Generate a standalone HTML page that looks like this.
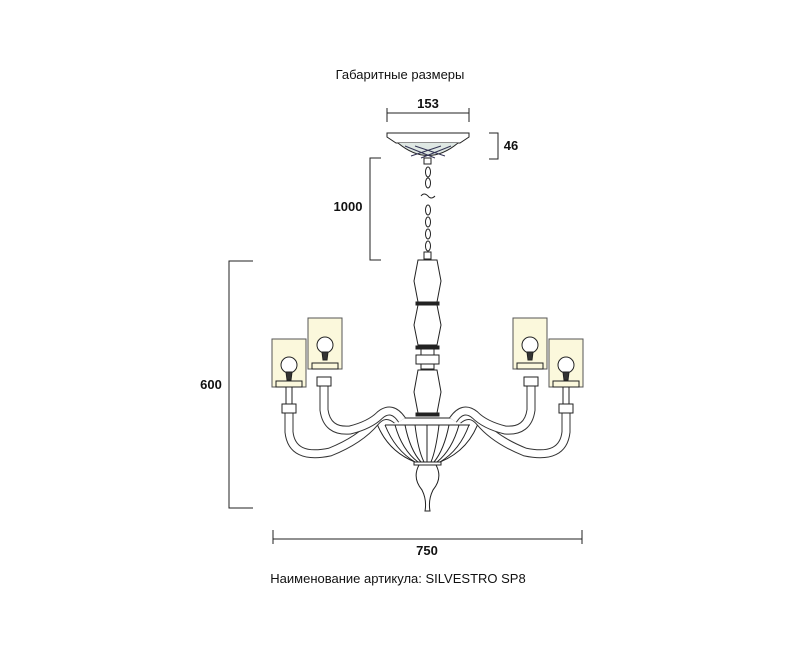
<!DOCTYPE html>
<html><head><meta charset="utf-8"><style>
html,body{margin:0;padding:0;background:#fff;}
svg{display:block;}
text{font-family:"Liberation Sans",sans-serif;fill:#111;}
</style></head><body>
<svg width="800" height="655" viewBox="0 0 800 655">
<text x="400" y="79" font-size="13" text-anchor="middle">Габаритные размеры</text>
<text x="398" y="583" font-size="13" text-anchor="middle">Наименование артикула: SILVESTRO SP8</text>
<!-- dimensions -->
<g stroke="#222" stroke-width="1" fill="none">
<line x1="387" y1="113" x2="469" y2="113"/><line x1="387" y1="108" x2="387" y2="122"/><line x1="469" y1="108" x2="469" y2="122"/>
<polyline points="489,133 498,133 498,159 489,159"/>
<polyline points="381,158 370,158 370,260 381,260"/>
<polyline points="253,261 229,261 229,508 253,508"/>
<line x1="273" y1="539" x2="582" y2="539"/><line x1="273" y1="530" x2="273" y2="544"/><line x1="582" y1="530" x2="582" y2="544"/>
</g>
<g font-size="13" font-weight="bold" text-anchor="middle">
<text x="428" y="108">153</text>
<text x="511" y="150">46</text>
<text x="348" y="211">1000</text>
<text x="211" y="389">600</text>
<text x="427" y="555">750</text>
</g>
<!-- canopy -->
<g stroke="#222" stroke-width="1" fill="none">
<path d="M387,133 L469,133 L469,137 L460,143 L396,143 L387,137 Z" fill="#fff"/>
<path d="M398,143 Q428,168 458,143" fill="#dfe8e4"/>
<path d="M405,146 L435,158 M415,146 L445,156 M451,146 L421,158 M441,146 L411,156" stroke="#335"/>
<rect x="424" y="158" width="7" height="6"/>
<!-- chain -->
<ellipse cx="428" cy="172" rx="2.5" ry="5"/><ellipse cx="428" cy="183" rx="2.5" ry="5"/>
<path d="M421,196 q3,-4 7,0 q3,4 7,0"/>
<ellipse cx="428" cy="210" rx="2.5" ry="5"/><ellipse cx="428" cy="222" rx="2.5" ry="5"/><ellipse cx="428" cy="234" rx="2.5" ry="5"/><ellipse cx="428" cy="246" rx="2.5" ry="5"/>
<rect x="424" y="252" width="7" height="7"/>
<!-- column -->
<path d="M418,260 L437,260 L441,281 L437,302 L418,302 L414,281 Z"/>
<rect x="416" y="302" width="23" height="3" fill="#222"/>
<path d="M418,305 L437,305 L441,325 L437,345 L418,345 L414,325 Z"/>
<rect x="416" y="346" width="23" height="3" fill="#222"/>
<rect x="421" y="349" width="13" height="6"/>
<rect x="416" y="355" width="23" height="9"/>
<rect x="421" y="364" width="13" height="5"/>
<path d="M418,370 L437,370 L441,392 L437,413 L418,413 L414,392 Z"/>
<rect x="416" y="413" width="23" height="3" fill="#222"/>
<!-- bowl -->
<path d="M375,418 L480,418 Q470,450 440,462 L415,462 Q385,450 375,418 Z"/>
<line x1="385" y1="425" x2="470" y2="425"/>
<path d="M385,425 Q395,450 415,462 M395,425 Q402,450 418,462 M405,425 Q410,450 421,462 M415,425 Q418,450 424,462 M427,425 L427,462 M439,425 Q436,450 431,462 M449,425 Q444,450 434,462 M459,425 Q452,450 437,462 M469,425 Q460,450 440,462"/>
<rect x="414" y="462" width="27" height="3"/>
<path d="M419,465 Q412,478 422,490 Q427,500 425,511 L430,511 Q428,500 433,490 Q443,478 436,465 Z"/>
</g>
<!-- arms -->
<g fill="none" stroke-linecap="butt">
<g id="armsL">
<path d="M289,413 L289,432 Q292,460 330,452 Q360,440 375,422 Q385,410 397,420" stroke="#333" stroke-width="9"/>
<path d="M289,413 L289,432 Q292,460 330,452 Q360,440 375,422 Q385,410 397,420" stroke="#fff" stroke-width="7"/>
<path d="M324,386 L324,410 Q327,432 350,430 Q370,425 380,415 Q392,405 402,420" stroke="#333" stroke-width="9"/>
<path d="M324,386 L324,410 Q327,432 350,430 Q370,425 380,415 Q392,405 402,420" stroke="#fff" stroke-width="7"/>
<g stroke="#222" stroke-width="1">
<rect x="282" y="404" width="14" height="9" fill="#fff"/>
<rect x="317" y="377" width="14" height="9" fill="#fff"/>
<line x1="286" y1="387" x2="286" y2="404"/><line x1="292" y1="387" x2="292" y2="404"/>
<rect x="272" y="339" width="34" height="48" fill="#fbf8dc" stroke="#555"/>
<rect x="276" y="381" width="26" height="6"/>
<circle cx="289" cy="365" r="8" fill="#fff"/>
<path d="M286,372 L292,372 L291,380 L287,380 Z" fill="#333"/>
<rect x="308" y="318" width="34" height="51" fill="#fbf8dc" stroke="#555"/>
<rect x="312" y="363" width="26" height="6"/>
<circle cx="325" cy="345" r="8" fill="#fff"/>
<path d="M322,352 L328,352 L327,360 L323,360 Z" fill="#333"/>
</g>
</g>
<use href="#armsL" transform="translate(855,0) scale(-1,1)"/>
</g>
</svg>
</body></html>
